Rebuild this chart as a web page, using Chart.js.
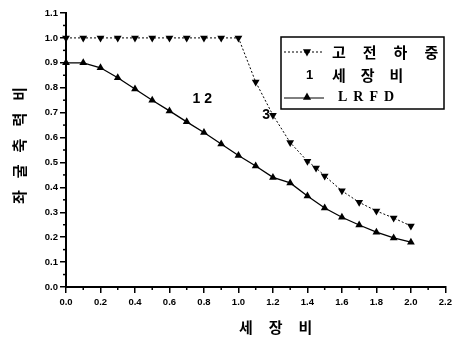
<!DOCTYPE html>
<html>
<head>
<meta charset="utf-8">
<script src="https://cdn.jsdelivr.net/npm/chart.js@4"></script>
<style>
  html, body { margin: 0; padding: 0; background: #fff; }
  #wrap { width: 456px; height: 338px; position: relative; }
</style>
</head>
<body>
<div id="wrap"><canvas id="chart" width="456" height="338"></canvas></div>
<script>
// 데이터
const classicX = [0, 0.1, 0.2, 0.3, 0.4, 0.5, 0.6, 0.7, 0.8, 0.9, 1.0, 1.1, 1.2, 1.3, 1.4, 1.45, 1.5, 1.6, 1.7, 1.8, 1.9, 2.0];
const classicY = [1.0, 1.0, 1.0, 1.0, 1.0, 1.0, 1.0, 1.0, 1.0, 1.0, 1.0, 0.823, 0.69, 0.58, 0.505, 0.478, 0.446, 0.386, 0.34, 0.305, 0.277, 0.245];
const lrfdX = [0, 0.1, 0.2, 0.3, 0.4, 0.5, 0.6, 0.7, 0.8, 0.9, 1.0, 1.1, 1.2, 1.3, 1.4, 1.5, 1.6, 1.7, 1.8, 1.9, 2.0];
const lrfdY = [0.9, 0.9, 0.88, 0.84, 0.795, 0.75, 0.707, 0.663, 0.62, 0.574, 0.528, 0.486, 0.44, 0.418, 0.365, 0.317, 0.28, 0.249, 0.22, 0.197, 0.18];

const seriesNames = ['고전하중', 'LRFD'];
const legendMiddle = '세장비';
const xTitle = '세장비';
const yTitle = '좌굴축력비';
const notes = [{ text: '1 2', x: 0.79, y: 0.755 }, { text: '3', x: 1.16, y: 0.69 }];

const korFont = '"Noto Sans CJK KR", "Noto Sans", sans-serif';
const tickFont = { family: '"Liberation Sans", Arial, sans-serif', size: 9.5, weight: 'bold' };

function toPoints(xs, ys) {
    return xs.map((x, i) => ({ x: x, y: ys[i] }));
}

// 글자를 간격을 두고 한 글자씩 그리기
function spacedText(ctx, text, x, y, gap) {
    let cx = x;
    for (const ch of text) {
        ctx.fillText(ch, cx, y);
        cx += ctx.measureText(ch).width + gap;
    }
}

function drawTriangle(ctx, x, y, r, down) {
    ctx.beginPath();
    const s = down ? -1 : 1;
    ctx.moveTo(x, y - s * r);
    ctx.lineTo(x - r * 0.9, y + s * r * 0.6);
    ctx.lineTo(x + r * 0.9, y + s * r * 0.6);
    ctx.closePath();
    ctx.fill();
}

// 보조 눈금, 범례, 축 제목, 주석
const extras = {
    id: 'extras',
    afterDraw(chart) {
        const ctx = chart.ctx;
        const xs = chart.scales.x;
        const ys = chart.scales.y;
        const area = chart.chartArea;
        ctx.save();
        ctx.strokeStyle = '#000';
        ctx.fillStyle = '#000';
        ctx.lineWidth = 1.5;

        // minor ticks
        for (let v = 0.1; v < 2.2; v += 0.2) {
            const px = xs.getPixelForValue(v);
            ctx.beginPath();
            ctx.moveTo(px, area.bottom);
            ctx.lineTo(px, area.bottom + 3);
            ctx.stroke();
        }
        for (let v = 0.05; v < 1.1; v += 0.1) {
            const py = ys.getPixelForValue(v);
            ctx.beginPath();
            ctx.moveTo(area.left, py);
            ctx.lineTo(area.left - 3, py);
            ctx.stroke();
        }

        // 축 제목
        ctx.font = '600 15px ' + korFont;
        ctx.textBaseline = 'middle';
        ctx.textAlign = 'left';
        spacedText(ctx, xTitle, 239, 327, 16);
        ctx.save();
        ctx.translate(19, 204);
        ctx.rotate(-Math.PI / 2);
        spacedText(ctx, yTitle, 0, 0, 12);
        ctx.restore();

        // 주석
        ctx.font = 'bold 14px "Liberation Sans", Arial, sans-serif';
        ctx.textAlign = 'center';
        notes.forEach(n => {
            ctx.fillText(n.text, xs.getPixelForValue(n.x), ys.getPixelForValue(n.y));
        });

        // 범례
        ctx.fillStyle = '#fff';
        ctx.fillRect(281, 37, 163, 72);
        ctx.fillStyle = '#000';
        ctx.lineWidth = 1.5;
        ctx.strokeRect(281, 37, 163, 72);

        ctx.lineWidth = 1;
        ctx.setLineDash([2, 2]);
        ctx.beginPath();
        ctx.moveTo(284, 52);
        ctx.lineTo(324, 52);
        ctx.stroke();
        ctx.setLineDash([]);
        drawTriangle(ctx, 307, 52, 4.5, true);

        ctx.beginPath();
        ctx.moveTo(284, 98);
        ctx.lineTo(324, 98);
        ctx.stroke();
        drawTriangle(ctx, 307, 97, 4.5, false);

        ctx.textAlign = 'left';
        ctx.font = '600 15px ' + korFont;
        spacedText(ctx, seriesNames[0], 332, 52, 17);
        spacedText(ctx, legendMiddle, 332, 75, 15);
        ctx.font = 'bold 13px "Liberation Sans", Arial, sans-serif';
        ctx.fillText('1', 306, 75);
        ctx.font = 'bold 14px "Liberation Serif", serif';
        spacedText(ctx, seriesNames[1], 338, 97, 6);

        ctx.restore();
    }
};

const ctx = document.getElementById('chart').getContext('2d');

new Chart(ctx, {
    type: 'line',
    data: {
        datasets: [{
            label: seriesNames[0],
            data: toPoints(classicX, classicY),
            borderColor: '#000',
            borderWidth: 1,
            borderDash: [2, 2],
            pointStyle: 'triangle',
            rotation: 180,
            pointRadius: 4.5,
            pointBackgroundColor: '#000',
            pointBorderWidth: 0,
            tension: 0,
            clip: false
        }, {
            label: seriesNames[1],
            data: toPoints(lrfdX, lrfdY),
            borderColor: '#000',
            borderWidth: 1.3,
            pointStyle: 'triangle',
            pointRadius: 4.5,
            pointBackgroundColor: '#000',
            pointBorderWidth: 0,
            tension: 0,
            clip: false
        }]
    },
    options: {
        responsive: false,
        animation: false,
        layout: { padding: { top: 13, right: 0, left: 0, bottom: 0 } },
        plugins: {
            legend: { display: false },
            tooltip: { enabled: false }
        },
        scales: {
            x: {
                type: 'linear',
                min: 0,
                max: 2.2,
                afterFit(scale) { scale.height = 51; },
                border: { display: true, color: '#000', width: 2 },
                grid: { drawOnChartArea: false, drawTicks: true, tickLength: 6, color: '#000', lineWidth: 1.5 },
                ticks: {
                    stepSize: 0.2,
                    padding: 4,
                    color: '#000',
                    font: tickFont,
                    maxRotation: 0,
                    callback: v => v.toFixed(1)
                }
            },
            y: {
                min: 0,
                max: 1.1,
                afterFit(scale) { scale.width = 66; },
                border: { display: true, color: '#000', width: 2 },
                grid: { drawOnChartArea: false, drawTicks: true, tickLength: 6, color: '#000', lineWidth: 1.5 },
                ticks: {
                    stepSize: 0.1,
                    padding: 2,
                    color: '#000',
                    font: tickFont,
                    callback: v => v.toFixed(1)
                }
            }
        }
    },
    plugins: [extras]
});
</script>
</body>
</html>
